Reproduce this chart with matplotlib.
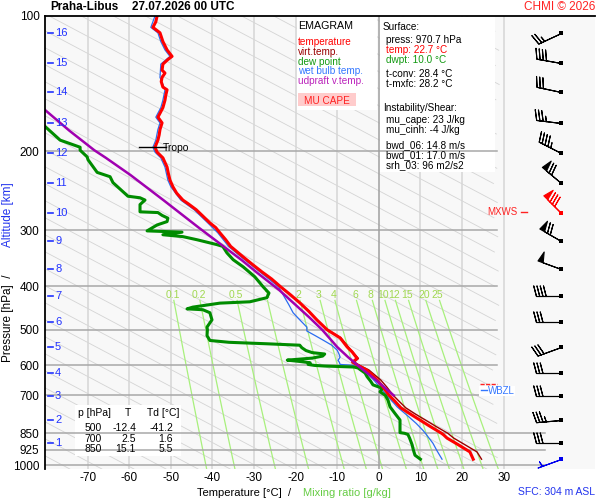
import numpy as np
import matplotlib
matplotlib.use('Agg')
import matplotlib.pyplot as plt
from matplotlib.patches import Rectangle
from matplotlib.lines import Line2D
from matplotlib.ticker import NullLocator

plt.rcParams['font.family'] = ['Liberation Sans', 'DejaVu Sans']

# ---------------- data ----------------
temp_p = [970.7, 935, 900, 871, 857, 850, 820, 794, 770, 746, 720, 700, 670, 647, 630, 614, 600, 590, 579, 560,
          546, 521, 500, 475, 455, 436, 418, 401, 385, 372, 358, 344, 326, 315, 304, 296, 289, 279, 270, 262,
          257, 248, 240, 232, 224, 217, 207, 201, 196, 189, 184, 179, 173, 168, 164, 160, 154, 150, 146, 144,
          140, 137, 134, 132, 128, 125, 123, 119, 114, 109, 106, 103, 100]
temp_t = [22.7, 21.9, 19.0, 16.4, 15.6, 15.1, 12.3, 9.9, 7.6, 5.3, 3.8, 2.5, 1.0, -0.4, -1.6, -3.0, -5.0, -6.3, -5.2, -6.4,
          -7.6, -9.3, -12.4, -14.9, -16.8, -18.9, -21.2, -23.6, -25.8, -28.0, -30.3, -32.6, -35.6, -36.8, -38.2, -39.2, -40.6, -42.3, -43.9, -45.8,
          -47.1, -48.6, -49.5, -50.2, -50.6, -50.9, -51.9, -53.3, -53.8, -53.1, -52.8, -52.6, -52.1, -53.1, -52.5, -51.9, -51.4, -51.2, -50.9, -51.9,
          -52.3, -52.1, -51.4, -52.1, -51.9, -50.7, -49.7, -50.9, -51.9, -52.6, -54.3, -53.6, -53.3]

virt_p = [970.7, 935, 900, 871, 850, 820, 794, 770, 746, 720, 700, 670, 647, 614, 600, 590, 579, 546, 521, 500]
virt_t = [24.7, 23.6, 20.6, 18.0, 16.6, 13.7, 11.2, 8.8, 6.5, 4.8, 3.5, 1.9, 0.5, -2.4, -4.6, -5.9, -4.9, -7.3, -9.1, -12.2]

dwpt_p = [970.7, 951, 925, 901, 871, 855, 850, 847, 820, 794, 768, 742, 717, 700, 687, 675, 663, 650, 636, 624,
          608, 605, 602, 600, 597, 592, 588, 584, 578, 572, 566, 562, 556, 548, 541, 537, 533, 528, 515, 500,
          493, 475, 465, 458, 451, 449, 445, 436, 433, 424, 414, 401, 381, 362, 349, 337, 326, 323, 315, 310,
          307, 303, 301, 292, 287, 282, 278, 274, 273, 263, 257, 254, 252, 235, 228, 223, 209, 206, 199, 196,
          189, 177, 170]
dwpt_t = [10.0, 8.7, 8.3, 8.0, 7.4, 7.0, 6.2, 5.1, 5.1, 5.1, 3.9, 2.7, 2.2, 1.6, 0.3, 0.9, -1.4, -2.0, -2.8, -3.3,
          -5.0, -6.0, -13.0, -15.5, -17.0, -16.5, -19.0, -22.0, -16.0, -13.5, -13.0, -16.0, -17.5, -18.5, -19.0, -27.0, -36.0, -40.6, -41.3, -41.2,
          -41.3, -40.1, -40.4, -40.6, -42.3, -46.1, -44.7, -38.2, -31.0, -26.9, -26.4, -27.8, -29.8, -32.6, -35.0, -36.5, -37.5, -38.9, -43.7, -47.1,
          -51.9, -47.3, -55.7, -53.3, -50.9, -50.7, -52.1, -53.1, -57.4, -57.4, -56.2, -57.4, -60.3, -63.9, -64.6, -67.7, -69.9, -70.1, -71.8, -71.8,
          -76.6, -80.0, -82.0]

wetb_p = [970.7, 930, 894, 850, 837, 808, 775, 742, 700, 670, 650, 625, 606, 600, 597, 590, 585, 575, 565, 555,
          541, 527, 515, 503, 493, 475, 458, 440, 424, 401, 372, 344, 326, 304, 289, 270, 257, 240, 232, 217,
          207, 201, 196, 189, 179, 173, 168, 160, 154, 146, 137, 128, 123, 119, 114, 109, 106, 100]
wetb_t = [15.2, 14.0, 13.0, 11.2, 10.6, 9.0, 6.8, 4.4, 2.0, 0.2, -1.0, -2.8, -4.8, -6.2, -9.3, -9.5, -9.8, -9.3, -9.6, -10.0,
          -11.3, -13.4, -15.3, -17.3, -17.3, -19.0, -20.6, -21.6, -22.6, -24.1, -28.5, -33.1, -36.1, -38.7, -41.1, -44.4, -47.6, -50.0, -50.7, -51.4,
          -52.4, -53.8, -54.3, -53.6, -53.1, -52.6, -53.6, -52.4, -51.9, -51.4, -52.6, -52.4, -50.2, -51.4, -52.4, -53.1, -54.8, -53.8]

parcel_p = [700, 680, 650, 606, 575, 546, 520, 500, 470, 440, 408, 374, 350, 326, 295, 257, 226, 207, 199, 180, 162, 150]
parcel_t = [3.6, 2.0, -0.4, -4.5, -7.4, -10.0, -12.0, -13.6, -16.6, -20.0, -23.9, -29.1, -32.9, -37.3, -43.5, -51.8, -59.7, -65.6, -68.4, -74.4, -80.2, -84.0]

# winds at altitude levels (surface first), knots / degrees
wind_alt = ['sfc', 1, 2, 3, 4, 5, 6, 7, 8, 9, 10, 11, 12, 13, 14, 15, 16]
wind_p = [970.7, 893, 794, 702, 624, 546, 480, 420, 366, 317, 275, 235, 202, 173, 148, 127, 109]
wind_dir = [250, 270, 265, 270, 270, 250, 270, 270, 290, 300, 315, 310, 297, 277, 282, 280, 245]
wind_spd = [5, 30, 35, 30, 30, 30, 30, 40, 50, 70, 80, 70, 45, 35, 30, 40, 25]
mxws_level = 10

alt_km = [1, 2, 3, 4, 5, 6, 7, 8, 9, 10, 11, 12, 13, 14, 15, 16]
alt_p = [893, 794, 702, 624, 546, 480, 420, 366, 317, 275, 235, 202, 173, 148, 127, 109]

p_ticks = [100, 200, 300, 400, 500, 600, 700, 850, 925, 1000]
t_ticks = [-70, -60, -50, -40, -30, -20, -10, 0, 10, 20, 30]
mr_vals = [0.1, 0.2, 0.5, 1, 2, 3, 4, 6, 8, 10, 12, 15, 20, 25]

tropo_p = 196

table_p = [500, 700, 850]
table_t = [-12.4, 2.5, 15.1]
table_td = [-41.2, 1.6, 5.5]

sfc_press, sfc_temp, sfc_dwpt = 970.7, 22.7, 10.0
t_conv, t_mxfc = 28.4, 28.2
mu_cape, mu_cinh = 23, -4
bwd_06, bwd_01, srh_03 = 14.8, 17.0, 96
sfc_height = 304

# ---------------- figure ----------------
W, H = 600, 500
fig = plt.figure(figsize=(6, 5), dpi=100)
fig.patch.set_facecolor('white')


def fx(px):
    return px / W


def fy(py):
    return 1 - py / H


PXC = 4.16
T_LEFT = -80.24
T_RIGHT = T_LEFT + 550 / PXC
P_BOT = 1020.7

ax = fig.add_axes([fx(45), fy(469), 550 / W, 453 / H])
ax.set_yscale('log')
ax.set_xlim(T_LEFT, T_RIGHT)
ax.set_ylim(P_BOT, 100)
ax.set_facecolor('#f8f8f8')
for s in ['right', 'bottom']:
    ax.spines[s].set_visible(False)
ax.spines['left'].set_linewidth(1.3)
ax.spines['top'].set_linewidth(1.3)
ax.spines['left'].set_zorder(10)
ax.spines['top'].set_zorder(10)

ax.set_yticks(p_ticks)
ax.set_yticklabels([str(p) for p in p_ticks])
ax.yaxis.set_minor_locator(NullLocator())
ax.set_xticks(t_ticks)
ax.set_xticklabels([str(t) for t in t_ticks])
ax.tick_params(axis='y', length=0, pad=4, labelsize=8.5)
ax.tick_params(axis='x', length=0, pad=2.5, labelsize=8.5)

# isotherms
for t in t_ticks:
    col = '#a0a0a0' if t == 0 else '#d6d6d6'
    ax.plot([t, t], [100, P_BOT], color=col, lw=1.1, zorder=1.1 if t else 2.1)

# diagonal reference lines
pp = np.logspace(2, np.log10(P_BOT), 120)
for k in range(-32, 12):
    c = 147.5 + 7.71 * k
    tt = c + 203.6 * np.log10(pp / 1000.0)
    tt = np.where(tt > 29.0, np.nan, tt)
    ax.plot(tt, pp, color='#d4d4d4', lw=0.6, zorder=1)

# mixing ratio lines


def td_from_w(w, p):
    e = w * p / (622.0 + w)
    a = np.log(e / 6.112)
    return 243.5 * a / (17.67 - a)


pm = np.linspace(430, P_BOT, 40)
for w in mr_vals:
    ax.plot(td_from_w(w, pm), pm, color='#a8f07c', lw=0.9, zorder=1.2)
    ax.text(td_from_w(w, 418), 418, f'{w:g}', color='#a0d850', fontsize=7.5,
            ha='center', va='center', zorder=1.3)

# pressure lines
for p in p_ticks[1:]:
    tr = 40.0 if p >= 850 else 28.3
    ax.plot([T_LEFT, tr], [p, p], color='#a8a8a8', lw=1.1, zorder=2)

# white boxes
for (x0, y0, x1, y1) in [(297, 17, 377, 110), (380, 17, 495, 172), (75, 405, 181, 456)]:
    ax.add_patch(Rectangle((fx(x0), fy(y1)), fx(x1) - fx(x0), fy(y0) - fy(y1),
                           transform=fig.transFigure, facecolor='white', edgecolor='none', zorder=1.5))
ax.add_patch(Rectangle((fx(298), fy(106)), fx(356) - fx(298), fy(93) - fy(106),
                       transform=fig.transFigure, facecolor='#ffcccc', edgecolor='none', zorder=1.6))

# profiles
ax.plot(wetb_t, wetb_p, color='#2a6cf0', lw=0.9, zorder=3)
ax.plot(virt_t, virt_p, color='#990000', lw=1.0, zorder=3.2)
ax.plot(dwpt_t, dwpt_p, color='#008c00', lw=2.2, zorder=3.5)
ax.plot(temp_t, temp_p, color='#ff0000', lw=2.2, zorder=4)
ax.plot(parcel_t, parcel_p, color='#a000b0', lw=1.8, zorder=4.5)

# tropopause marker
ax.plot([-57.6, -51.2], [tropo_p, tropo_p], color='black', lw=1.0, zorder=5)
fig.text(fx(163), fy(148), 'Tropo', fontsize=7.5, va='center', ha='left')

# altitude ticks
yt = ax.get_yaxis_transform()
for km, p in zip(alt_km, alt_p):
    ax.plot([3 / 550, 8 / 550], [p, p], color='#2233ff', lw=1.2, transform=yt, zorder=6, clip_on=False)
    ax.text(10 / 550, p, str(km), color='#2233ff', fontsize=8, va='center', ha='left', transform=yt, zorder=6)

# wind barbs
bx = T_LEFT + (561 - 45) / PXC
u = np.array([-s * np.sin(np.radians(d)) for s, d in zip(wind_spd, wind_dir)])
v = np.array([-s * np.cos(np.radians(d)) for s, d in zip(wind_spd, wind_dir)])
colors = []
for a in wind_alt:
    if a == 'sfc':
        colors.append('#0000ee')
    elif a == mxws_level:
        colors.append('#ff0000')
    else:
        colors.append('black')
sizes = dict(spacing=0.13, height=0.42, width=0.22, emptybarb=0.0)
for i in range(len(wind_p)):
    ax.barbs([bx], [wind_p[i]], [u[i]], [v[i]], length=6.0, linewidth=0.8,
             barbcolor=colors[i], flagcolor=colors[i], sizes=sizes, zorder=6, clip_on=False)
    ax.scatter([bx], [wind_p[i]], marker='s', s=5, color=colors[i], zorder=7, linewidths=0, clip_on=False)

# MXWS and level labels
fig.text(fx(517), fy(212), 'MXWS', ha='right', va='center', color='#ff2222', fontsize=7)
fig.add_artist(Line2D([fx(521), fx(527)], [fy(212), fy(212)], color='#ff2222', lw=1.0))
fig.add_artist(Line2D([fx(480), fx(497)], [fy(384), fy(384)], color='#ff2222', lw=1.0, ls=(0, (3, 1))))
fig.add_artist(Rectangle((fx(479), fy(396)), fx(515) - fx(479), fy(386) - fy(396),
                         transform=fig.transFigure, facecolor='white', edgecolor='none'))
fig.add_artist(Line2D([fx(481), fx(487)], [fy(390), fy(390)], color='#3377ff', lw=1.0))
fig.text(fx(488), fy(390.5), 'WBZL', ha='left', va='center', color='#3377ff', fontsize=7)

# title
fig.text(fx(50), fy(7), 'Praha-Libus', fontsize=8.5, weight='bold', va='center')
fig.text(fx(132), fy(7), '27.07.2026 00 UTC', fontsize=8.5, weight='bold', va='center')
fig.text(fx(595), fy(7), 'CHMI \u00a9 2026', fontsize=8.5, color='#ff2222', ha='right', va='center')

# legend
leg = [('EMAGRAM', 'black', 26, 7.7), ('temperature', '#ff0000', 42, 7.2), ('virt.temp.', '#990000', 52, 7.2),
       ('dew point', '#119911', 62, 7.2), ('wet bulb temp.', '#3377ff', 71.5, 7.2),
       ('udpraft v.temp.', '#bb22bb', 81, 7.2)]
for txt, col, y, fs in leg:
    fig.text(fx(298), fy(y), txt, color=col, fontsize=fs, va='center', ha='left')
fig.text(fx(327), fy(100.5), 'MU CAPE', color='#ff2222', fontsize=7.2, va='center', ha='center')

# info box
info = [(383, 27, 'Surface:', 'black'),
        (386, 40, f'press: {sfc_press:.1f} hPa', 'black'),
        (386, 50, f'temp: {sfc_temp:.1f} \u00b0C', '#ff0000'),
        (386, 60, f'dwpt: {sfc_dwpt:.1f} \u00b0C', '#119911'),
        (386, 74, f't-conv: {t_conv:.1f} \u00b0C', 'black'),
        (386, 84, f't-mxfc: {t_mxfc:.1f} \u00b0C', 'black'),
        (383, 108, 'Instability/Shear:', 'black'),
        (386, 120, f'mu_cape: {mu_cape} J/kg', 'black'),
        (386, 130, f'mu_cinh: {mu_cinh} J/kg', 'black'),
        (386, 145, f'bwd_06: {bwd_06:.1f} m/s', 'black'),
        (386, 155, f'bwd_01: {bwd_01:.1f} m/s', 'black'),
        (386, 165, f'srh_03: {srh_03} m2/s2', 'black')]
for x, y, txt, col in info:
    fig.text(fx(x), fy(y), txt, color=col, fontsize=7.2, va='center', ha='left')

# table
fig.text(fx(78), fy(413), 'p [hPa]', fontsize=7.5, va='center', ha='left')
fig.text(fx(128), fy(413), 'T', fontsize=7.5, va='center', ha='center')
fig.text(fx(147), fy(413), 'Td [\u00b0C]', fontsize=7.5, va='center', ha='left')
for i, (p, t, td) in enumerate(zip(table_p, table_t, table_td)):
    y = 428 + 10.5 * i
    fig.text(fx(102), fy(y), f'{p}', fontsize=7.5, va='center', ha='right')
    fig.text(fx(136), fy(y), f'{t:.1f}', fontsize=7.5, va='center', ha='right')
    fig.text(fx(173), fy(y), f'{td:.1f}', fontsize=7.5, va='center', ha='right')

# axis labels
fig.text(fx(197), fy(493), 'Temperature [\u00b0C]  /', fontsize=8, va='center', ha='left')
fig.text(fx(303), fy(493), 'Mixing ratio [g/kg]', fontsize=8, va='center', ha='left', color='#66cc44')
fig.text(fx(8), fy(362), 'Pressure [hPa]  /', fontsize=8.5, rotation=90, va='bottom', ha='center')
fig.text(fx(8), fy(247), 'Altitude [km]', fontsize=8.5, rotation=90, va='bottom', ha='center', color='#2233ee')
fig.text(fx(595), fy(492), f'SFC: {sfc_height} m ASL', fontsize=7.5, va='center', ha='right', color='#2233ee')

fig.savefig('out.png', dpi=100)
